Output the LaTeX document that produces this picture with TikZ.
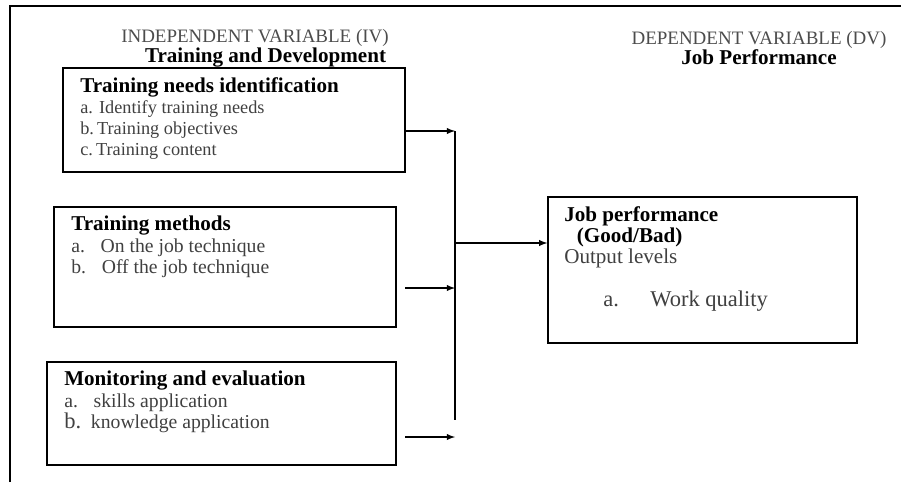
\documentclass[tikz,border=0pt]{standalone}
\usepackage{fontspec}
\setmainfont{Liberation Serif}
\usetikzlibrary{arrows,fit,calc,positioning}

\begin{document}
\begin{tikzpicture}[x=0.025cm,y=-0.025cm,>=latex,align=left]
  \tikzset{box/.style={draw, line width=1pt, inner sep=0pt},
    boxtext/.style={anchor=north west, inner sep=0pt,
      font=\fontsize{14}{15}\selectfont, text=black!75},
    head/.style={inner sep=0pt, align=center},
    link/.style={->, line width=1pt}}
  \useasboundingbox (0,0) rectangle (901,482);
  \draw[line width=1.5pt] (10,482) -- (10,6) -- (901,6);

  % headings
  \node[head] (ivhead) at (255,48) {{\fontsize{13.5}{12}\selectfont\color{black!70}INDEPENDENT VARIABLE (IV)}\\
    \hspace*{1.5em}{\fontsize{15}{12}\selectfont\bfseries Training and Development}};
  \node[head] (dvhead) at (759,48) {{\fontsize{13.5}{12}\selectfont\color{black!70}DEPENDENT VARIABLE (DV)}\\
    {\fontsize{15}{12}\selectfont\bfseries Job Performance}};

  % boxes
  \node[box, fit={(63,68) (405,172)}] (trainneeds) {};
  \node[box, fit={(54,207) (396,327)}] (trainmethods) {};
  \node[box, fit={(47,362) (396,465)}] (monitoring) {};
  \node[box, fit={(548,197) (857,343)}] (jobperf) {};

  \node[boxtext, font=\fontsize{13}{15}\selectfont] (trainneedstxt) at (80,77) {{\color{black}\fontsize{15}{15}\selectfont\bfseries Training needs identification}\\
    a. Identify training needs\\ b.\,Training objectives\\ c.\,Training content};
  \node[boxtext] (trainmethodstxt) at (71,216) {{\color{black}\fontsize{15}{15}\selectfont\bfseries Training methods}\\
    a.\hspace{0.8em}On the job technique\\ b.\hspace{0.8em}Off the job technique};
  \node[boxtext] (monitoringtxt) at (64,371) {{\color{black}\fontsize{15}{15}\selectfont\bfseries Monitoring and evaluation}\\
    a.\hspace{0.8em}skills application\\ {\fontsize{16}{15}\selectfont b.}\hspace{0.5em}knowledge application};
  \node[boxtext] (jobperftxt) at (564,206) {{\color{black}\fontsize{15}{15}\selectfont\bfseries Job performance}\\
    {\color{black}\fontsize{15}{15}\selectfont\bfseries\hspace*{0.6em}(Good/Bad)}\\ {\fontsize{15}{15}\selectfont Output levels}};
  \node[boxtext, font=\fontsize{16}{18}\selectfont] (workqual) at (603,291) {a.\hspace{1.4em}Work quality};

  % connectors
  \coordinate (in1) at (455,131);
  \coordinate (in2) at (455,288);
  \coordinate (in3) at (455,437);
  \coordinate (hubbot) at (455,420);
  \coordinate (hubmid) at (455,243);

  \draw[link] (trainneeds.east |- in1) -- (in1);
  \draw[link] ([xshift=6pt]trainmethods.east |- in2) -- (in2);
  \draw[link] ([xshift=6pt]monitoring.east |- in3) -- (in3);
  \draw[line width=1pt] (in1) -- (hubbot);
  \draw[link] (hubmid) -- (jobperf.west |- hubmid);
\end{tikzpicture}
\end{document}
